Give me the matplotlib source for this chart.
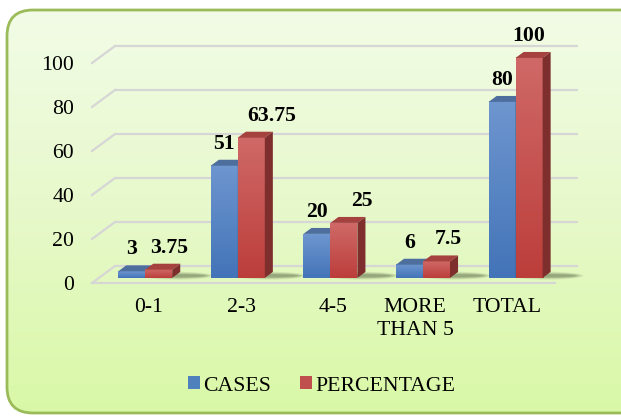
import numpy as np
import matplotlib
matplotlib.use("Agg")
import matplotlib.pyplot as plt
from matplotlib.patches import FancyBboxPatch, Polygon, Ellipse, Patch
from matplotlib.colors import LinearSegmentedColormap

plt.rcParams['font.family'] = ['Liberation Serif', 'DejaVu Serif']

# ---------------- data ----------------
categories = ["0-1", "2-3", "4-5", "MORE\nTHAN 5", "TOTAL"]
cases = [3, 51, 20, 6, 80]
percentage = [3.75, 63.75, 25, 7.5, 100]
case_labels = ["3", "51", "20", "6", "80"]
pct_labels = ["3.75", "63.75", "25", "7.5", "100"]
yticks = [0, 20, 40, 60, 80, 100]
series_names = ["CASES", "PERCENTAGE"]

# ---------------- style ----------------
W, H = 621, 416
FS = 15.7
pct_label_shift_px = [10, 20, 18, 12, 0]
cat_label_shift_px = [3, 4, 3, -8, -8]

fig = plt.figure(figsize=(W / 100, H / 100), dpi=100)
fig.patch.set_facecolor('white')

# background with rounded border and gradient
bg = fig.add_axes([0, 0, 1, 1])
bg.set_xlim(0, W)
bg.set_ylim(H, 0)
bg.axis('off')
bg_cmap = LinearSegmentedColormap.from_list('bg', ['#F3FCE8', '#E7F9CB', '#D9F8A6'])
grad = np.linspace(0, 1, 256).reshape(-1, 1)
im = bg.imshow(grad, cmap=bg_cmap, extent=(0, W, H, 0), aspect='auto', zorder=0)
box = FancyBboxPatch((7, 10), 640, 403, boxstyle="round,pad=0,rounding_size=26",
                     facecolor='none', edgecolor='#9BBB59', lw=2, zorder=2)
bg.add_patch(box)
im.set_clip_path(box)

# main axes: front plane
x_left, x_right, y0_px, y100_px = 92, 555, 283, 63
ax = fig.add_axes([x_left / W, (H - y0_px) / H, (x_right - x_left) / W, (y0_px - y100_px) / H])
ax.patch.set_alpha(0)
for s in ax.spines.values():
    s.set_visible(False)

n = len(categories)
px_per_cat = (x_right - x_left) / n
px_per_val = (y0_px - y100_px) / 100.0
DX = 23 / px_per_cat
DY = 17 / px_per_val
f0, f1 = 0.3, 0.65
bw = 27 / px_per_cat

grid_c = '#D6D6D6'
# gridlines (back wall lines + left diagonals)
for v in yticks:
    ax.plot([-0.5 + DX, n - 0.5 + DX], [v + DY, v + DY], color=grid_c, lw=1.6,
            clip_on=False, zorder=1, solid_capstyle='butt')
    ax.plot([-0.5, -0.5 + DX], [v, v + DY], color=grid_c, lw=1.6, clip_on=False, zorder=1)
ax.plot([-0.5, n - 0.5], [0, 0], color=grid_c, lw=1.6, clip_on=False, zorder=1)

blue_cmap = LinearSegmentedColormap.from_list('b', ['#4374B8', '#6E96CF'])
red_cmap = LinearSegmentedColormap.from_list('r', ['#BC3E3B', '#CF6967'])
vgrad = np.linspace(0, 1, 128).reshape(-1, 1)


def bar3d(x0, h, cmap, top_c, side_c, z):
    ox, oy = f0 * DX, f0 * DY
    ex, ey = (f1 - f0) * DX, (f1 - f0) * DY
    xa, xb = x0 + ox, x0 + ox + bw
    ax.imshow(vgrad, cmap=cmap, extent=(xa, xb, oy, oy + h), origin='lower',
              aspect='auto', zorder=z, clip_on=False, interpolation='bilinear')
    ax.add_patch(Polygon([(xa, oy + h), (xb, oy + h), (xb + ex, oy + h + ey), (xa + ex, oy + h + ey)],
                         closed=True, facecolor=top_c, edgecolor='none', zorder=z, clip_on=False))
    ax.add_patch(Polygon([(xb, oy), (xb + ex, oy + ey), (xb + ex, oy + h + ey), (xb, oy + h)],
                         closed=True, facecolor=side_c, edgecolor='none', zorder=z, clip_on=False))


for i in range(n):
    # shadow
    cx = i + f0 * DX + bw + 0.05
    for k, a in enumerate([0.07, 0.09, 0.12, 0.16]):
        ax.add_patch(Ellipse((cx, f0 * DY + 1.0), width=2 * bw + 0.2 - k * 0.05,
                             height=3.6 - k * 0.7, facecolor='#1F2A14', alpha=a,
                             edgecolor='none', zorder=2, clip_on=False))
    bar3d(i - bw, cases[i], blue_cmap, '#4E6F9D', '#3A5A86', 3 + 2 * i)
    bar3d(i, percentage[i], red_cmap, '#A5423F', '#7E2F2D', 4 + 2 * i)

    ox, oy = f0 * DX, f0 * DY
    lab_off = 22 / px_per_val
    ax.text(i - bw / 2 + ox, cases[i] + oy + lab_off, case_labels[i], ha='center', va='center',
            fontsize=FS, fontweight='bold', zorder=20, clip_on=False)
    ax.text(i + bw / 2 + ox + pct_label_shift_px[i] / px_per_cat, percentage[i] + oy + lab_off,
            pct_labels[i], ha='center', va='center', fontsize=FS, fontweight='bold',
            zorder=20, clip_on=False)
    ax.text(i + ox + cat_label_shift_px[i] / px_per_cat, -15 / px_per_val, categories[i],
            ha='center', va='top', fontsize=FS, linespacing=1.3, clip_on=False)

ax.set_xlim(-0.5, n - 0.5)
ax.set_ylim(0, 100)
ax.set_xticks([])
ax.set_yticks(yticks)
ax.set_yticklabels([str(v) for v in yticks])
ax.tick_params(axis='y', length=0, labelsize=FS, pad=13)

handles = [Patch(facecolor='#4F81BD', edgecolor='none'), Patch(facecolor='#C0504D', edgecolor='none')]
fig.legend(handles, series_names, loc='center', bbox_to_anchor=(321.5 / W, (H - 386) / H),
           ncol=2, frameon=False, fontsize=FS, handlelength=0.55, handleheight=0.55,
           handletextpad=0.15, columnspacing=1.3, borderpad=0)

fig.savefig('out.png', dpi=100)
